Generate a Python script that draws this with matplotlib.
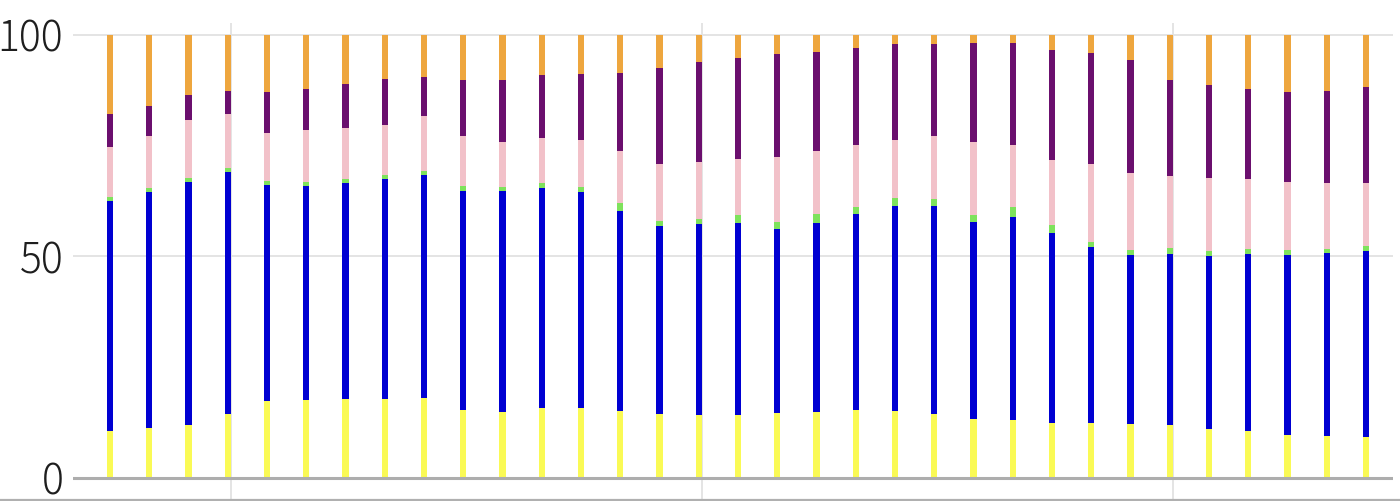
import numpy as np
import matplotlib
matplotlib.use("Agg")
import matplotlib.pyplot as plt
from matplotlib.lines import Line2D

plt.rcParams['font.family'] = ['Noto Sans CJK JP', 'DejaVu Sans']

# share of each group per period (%), bottom to top
yellow = [10.6, 11.2, 12.0, 14.5, 17.3, 17.6, 17.8, 17.8, 18.1, 15.3, 14.8,
          15.8, 15.7, 15.1, 14.5, 14.2, 14.2, 14.7, 14.8, 15.3, 15.2, 14.4,
          13.3, 13.0, 12.3, 12.4, 12.2, 12.0, 11.1, 10.6, 9.6, 9.5, 9.3]
blue = [52.0, 53.3, 54.8, 54.6, 48.8, 48.2, 48.8, 49.6, 50.2, 49.5, 50.0,
        49.7, 48.8, 45.1, 42.4, 43.1, 43.3, 41.6, 42.8, 44.3, 46.2, 46.9,
        44.5, 46.0, 43.1, 39.8, 38.2, 38.5, 39.0, 39.9, 40.8, 41.2, 42.0]
green = [0.9, 0.9, 0.8, 0.9, 0.9, 1.0, 0.9, 1.0, 1.1, 1.1, 0.9,
         1.0, 1.2, 1.9, 1.1, 1.1, 1.8, 1.5, 2.0, 1.6, 1.8, 1.7,
         1.5, 2.1, 1.6, 1.1, 1.0, 1.3, 1.2, 1.2, 1.0, 1.0, 1.1]
pink = [11.3, 11.9, 13.2, 12.2, 10.9, 11.8, 11.5, 11.3, 12.4, 11.4, 10.1,
        10.3, 10.6, 11.8, 12.8, 13.0, 12.8, 14.7, 14.2, 14.0, 13.2, 14.1,
        16.5, 14.1, 14.8, 17.5, 17.5, 16.4, 16.3, 15.7, 15.4, 14.8, 14.1]
purple = [7.3, 6.7, 5.6, 5.1, 9.2, 9.3, 9.9, 10.3, 8.6, 12.5, 14.0,
          14.1, 14.8, 17.6, 21.7, 22.5, 22.8, 23.1, 22.4, 21.9, 21.6, 20.8,
          22.3, 22.9, 24.7, 25.1, 25.5, 21.6, 21.1, 20.5, 20.4, 20.8, 21.8]
orange = [17.9, 16.0, 13.6, 12.7, 12.9, 12.1, 11.1, 10.0, 9.6, 10.2, 10.2,
          9.1, 8.9, 8.5, 7.5, 6.1, 5.1, 4.4, 3.8, 2.9, 2.0, 2.1,
          1.9, 1.9, 3.5, 4.1, 5.6, 10.2, 11.3, 12.1, 12.8, 12.7, 11.7]

series = [yellow, blue, green, pink, purple, orange]
colors = ['#fafa55', '#0000d2', '#7ee25c', '#f2c1c9', '#6b0f6e', '#eea63e']

year_marks = [3.08, 15.08, 27.08]  # year boundaries (12 periods apart)
yticks = [0, 50, 100]

fig = plt.figure(figsize=(14, 5.01), dpi=100)
ax = fig.add_axes([73 / 1400, 0, 1320 / 1400, 478 / 501])

x = np.arange(len(yellow))
bottom = np.zeros(len(x))
for vals, c in zip(series, colors):
    ax.bar(x, vals, bottom=bottom, width=0.16, color=c, linewidth=0, zorder=3)
    bottom += np.array(vals)

for v in yticks[1:]:
    ax.axhline(v, color='#e2e2e2', lw=1.3, zorder=1)
ax.axhline(0, color='#adadad', lw=2.2, zorder=4)
for xv in year_marks:
    ax.axvline(xv, color='#e2e2e2', lw=1.3, zorder=1)

ax.set_xlim(-0.943, 32.69)
ax.set_ylim(-5.2, 102.7)
ax.set_xticks([])
ax.set_yticks(yticks)
ax.set_yticklabels([str(v) for v in yticks], fontweight='light')
ax.tick_params(axis='y', length=0, pad=7, labelsize=29.5, labelcolor='#1e1e1e')
for s in ax.spines.values():
    s.set_visible(False)

fig.add_artist(Line2D([0, 1], [1.2 / 501, 1.2 / 501], transform=fig.transFigure,
                      color='#b0b0b0', lw=1.6))

fig.savefig('out.png', dpi=100, facecolor='white')
